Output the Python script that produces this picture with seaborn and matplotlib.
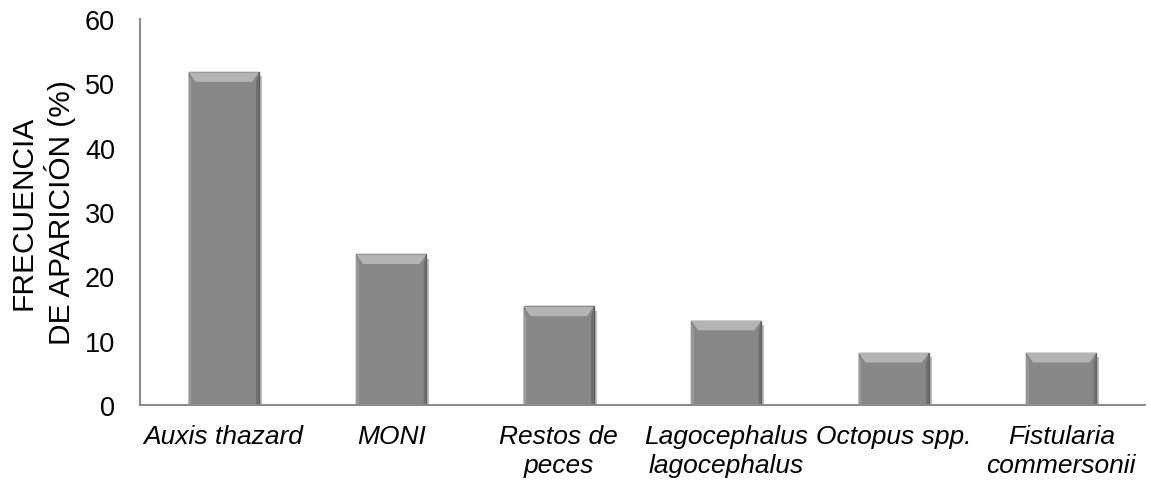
import matplotlib
matplotlib.use("Agg")
import matplotlib.pyplot as plt
import matplotlib.patheffects as pe
from matplotlib.patches import Polygon
import pandas as pd
import seaborn as sns

# Data
especies = [
    "Auxis thazard",
    "MONI",
    "Restos de\npeces",
    "Lagocephalus\nlagocephalus",
    "Octopus spp.",
    "Fistularia\ncommersonii",
]
frecuencia = [51.7, 23.4, 15.3, 13.1, 8.1, 8.1]
y_ticks = [0, 10, 20, 30, 40, 50, 60]

df = pd.DataFrame({"especie": especies, "frecuencia": frecuencia})

sns.set_style("white")
plt.rcParams["font.family"] = ["Liberation Sans", "DejaVu Sans"]
plt.rcParams["text.color"] = "black"
plt.rcParams["xtick.color"] = "black"
plt.rcParams["ytick.color"] = "black"
plt.rcParams["axes.labelcolor"] = "black"

fig = plt.figure(figsize=(11.51, 4.85), dpi=100)
ax = fig.add_axes([0.1216, 0.163, 0.8732, 0.796])

sns.barplot(
    data=df, x="especie", y="frecuencia", ax=ax,
    color="#878787", width=0.42, saturation=1,
    edgecolor="#5a5a5a", linewidth=1.0,
)

# Excel-like bevel + shadow on each bar
for bar in ax.patches:
    bar.set_path_effects([
        pe.SimplePatchShadow(offset=(2, -3), shadow_rgbFace="#000000", alpha=0.25),
        pe.Normal(),
    ])
    x0, y0 = bar.get_x(), bar.get_y()
    w, h = bar.get_width(), bar.get_height()
    dx = w * 0.1
    dy = 1.5
    z = bar.get_zorder() + 0.1
    ax.add_patch(Polygon([(x0, y0 + h), (x0 + w, y0 + h), (x0 + w - dx, y0 + h - dy),
                          (x0 + dx, y0 + h - dy)], closed=True,
                         facecolor="#b4b4b4", edgecolor="none", zorder=z))
    ax.add_patch(Polygon([(x0, y0 + h), (x0 + dx * 0.4, y0 + h - dy), (x0 + dx * 0.4, y0),
                          (x0, y0)], closed=True,
                         facecolor="#9a9a9a", edgecolor="none", zorder=z))
    ax.add_patch(Polygon([(x0 + w, y0 + h), (x0 + w - dx * 0.4, y0 + h - dy),
                          (x0 + w - dx * 0.4, y0), (x0 + w, y0)], closed=True,
                         facecolor="#6e6e6e", edgecolor="none", zorder=z))

ax.set_ylim(0, 60)
ax.set_xlim(-0.5, len(especies) - 0.5)
ax.set_yticks(y_ticks)
ax.set_yticklabels([str(t) for t in y_ticks], fontsize=19.5)
ax.set_xticks(range(len(especies)))
ax.set_xticklabels(especies, fontsize=19, style="italic", linespacing=1.25, va="top")
ax.tick_params(axis="y", length=0, pad=18)
ax.tick_params(axis="x", length=0, pad=14)

ax.set_xlabel("")
ax.set_ylabel("FRECUENCIA\nDE APARICIÓN (%)", fontsize=21.5, linespacing=1.25, labelpad=6)

for side in ["top", "right"]:
    ax.spines[side].set_visible(False)
for side in ["left", "bottom"]:
    ax.spines[side].set_color("#8c8c8c")
    ax.spines[side].set_linewidth(1.5)

fig.savefig("out.png", dpi=100, facecolor="white")
